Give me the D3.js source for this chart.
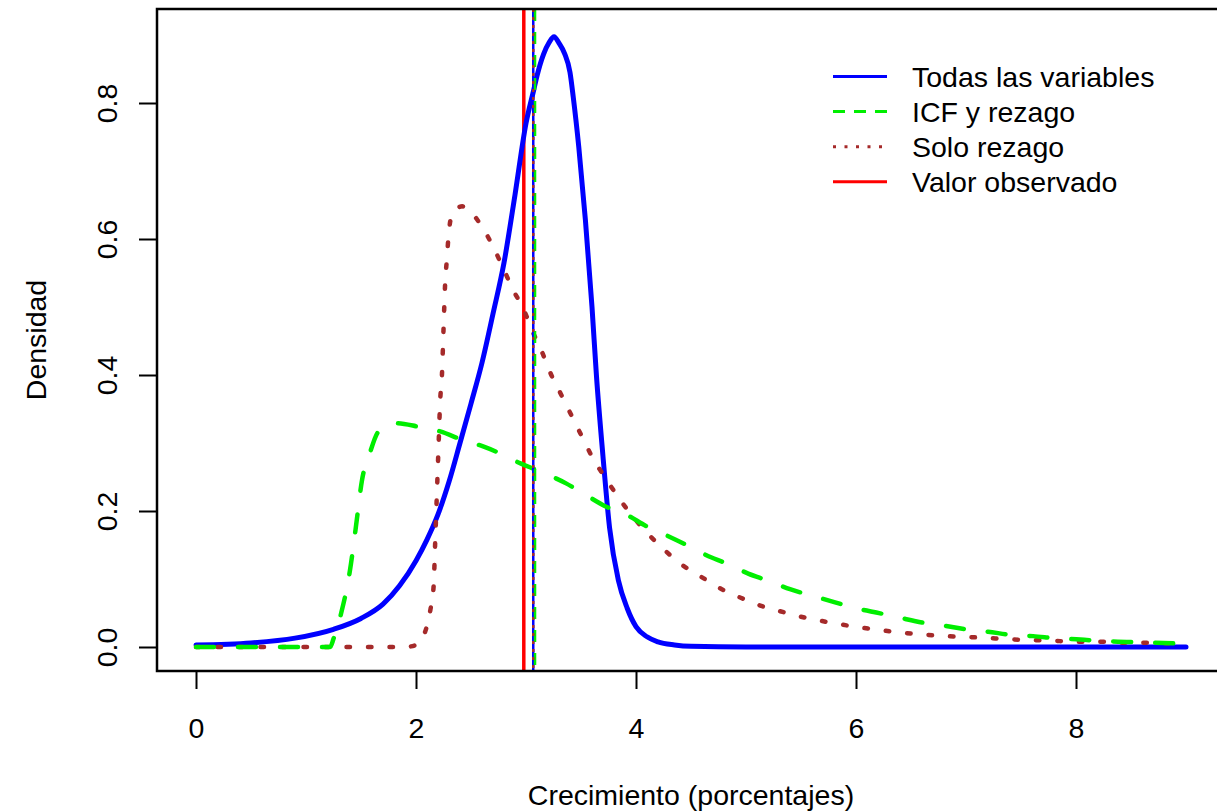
<!DOCTYPE html>
<html>
<head>
<meta charset="utf-8">
<script src="https://cdn.jsdelivr.net/npm/d3@7"></script>
<style>
  html, body { margin: 0; padding: 0; background: #fff; overflow: hidden; }
  svg { display: block; }
  text { font-family: "Liberation Sans", Arial, sans-serif; fill: #000; }
</style>
</head>
<body>
<svg id="chart" width="1217" height="812"></svg>
<script>
// ---- Data ----
const seriesNames = ["Todas las variables", "ICF y rezago", "Solo rezago", "Valor observado"];

const todasX = [0, 0.5, 0.9, 1.25, 1.5, 1.7, 1.85, 2.0, 2.1, 2.2, 2.3, 2.4, 2.5, 2.6, 2.7, 2.8, 2.9, 3.0, 3.07, 3.1, 3.16, 3.21, 3.255, 3.3, 3.35, 3.4, 3.43, 3.48, 3.54, 3.6, 3.64, 3.7, 3.76, 3.84, 3.92, 4.0, 4.1, 4.2, 4.35, 4.5, 5, 6, 7, 8, 9];
const todasY = [0.003, 0.006, 0.013, 0.026, 0.042, 0.063, 0.09, 0.127, 0.158, 0.195, 0.243, 0.30, 0.358, 0.418, 0.49, 0.565, 0.665, 0.77, 0.819, 0.84, 0.872, 0.889, 0.8975, 0.888, 0.873, 0.845, 0.808, 0.735, 0.628, 0.50, 0.40, 0.28, 0.175, 0.098, 0.057, 0.030, 0.015, 0.0075, 0.003, 0.001, 0, 0, 0, 0, 0];

const icfX = [0, 1.22, 1.25, 1.32, 1.4, 1.45, 1.51, 1.58, 1.66, 1.82, 2.02, 2.22, 2.43, 2.61, 2.76, 2.95, 3.1, 3.36, 3.54, 3.72, 3.92, 4.09, 4.28, 4.46, 4.64, 4.82, 5.02, 5.2, 5.4, 5.6, 5.81, 6.0, 6.22, 6.4, 6.6, 6.81, 7.0, 7.2, 7.42, 7.61, 7.82, 8.04, 8.25, 8.46, 8.67, 8.88, 9.0];
const icfY = [0, 0, 0.012, 0.05, 0.113, 0.172, 0.246, 0.285, 0.317, 0.329, 0.324, 0.317, 0.304, 0.295, 0.285, 0.27, 0.26, 0.241, 0.224, 0.207, 0.194, 0.178, 0.164, 0.15, 0.135, 0.123, 0.108, 0.0975, 0.085, 0.0755, 0.0657, 0.057, 0.0495, 0.043, 0.036, 0.031, 0.026, 0.0225, 0.0176, 0.016, 0.0127, 0.011, 0.0085, 0.0075, 0.0064, 0.0054, 0.005];

const soloX = [0, 1.9, 2.0, 2.08, 2.13, 2.16, 2.175, 2.19, 2.205, 2.22, 2.235, 2.25, 2.265, 2.28, 2.295, 2.33, 2.42, 2.46, 2.6, 2.7, 2.79, 2.88, 2.98, 3.06, 3.15, 3.23, 3.32, 3.415, 3.51, 3.61, 3.72, 3.84, 3.96, 4.1, 4.25, 4.4, 4.6, 4.78, 4.98, 5.16, 5.36, 5.54, 5.73, 5.93, 6.14, 6.34, 6.55, 6.75, 6.96, 7.16, 7.37, 7.57, 7.78, 7.98, 8.2, 8.42, 8.63, 8.82, 9.0];
const soloY = [0, 0, 0.003, 0.021, 0.054, 0.089, 0.157, 0.226, 0.295, 0.363, 0.397, 0.466, 0.535, 0.569, 0.603, 0.637, 0.648, 0.645, 0.618, 0.589, 0.558, 0.526, 0.496, 0.464, 0.432, 0.40, 0.371, 0.34, 0.309, 0.277, 0.249, 0.22, 0.194, 0.168, 0.144, 0.123, 0.1025, 0.085, 0.0706, 0.0593, 0.0505, 0.043, 0.037, 0.0314, 0.0265, 0.0226, 0.019, 0.0167, 0.0148, 0.0137, 0.0115, 0.0103, 0.0093, 0.0078, 0.0078, 0.0064, 0.0064, 0.0054, 0.005];

// vertical reference lines (means and observed value)
const meanTodas = 3.066;
const meanIcf = 3.082;
const meanSolo = 3.066;
const valorObservado = 2.98;

const xTicks = [0, 2, 4, 6, 8];
const yTicks = [0, 0.2, 0.4, 0.6, 0.8];

const colors = { todas: "#0000ff", icf: "#00ee00", solo: "#a52a2a", obs: "#ff0000" };

// ---- Layout ----
const svg = d3.select("#chart");
const plotLeft = 157, plotTop = 9, plotBottom = 671, plotRight = 1226;

const x = d3.scaleLinear().domain([0, 9]).range([196, 1186]);
const y = d3.scaleLinear().domain([0, 0.8]).range([647, 103]);

svg.append("defs").append("clipPath").attr("id", "clip")
  .append("rect").attr("x", plotLeft).attr("y", plotTop)
  .attr("width", plotRight - plotLeft).attr("height", plotBottom - plotTop);

const plot = svg.append("g").attr("clip-path", "url(#clip)");

const line = d3.line().x(d => x(d[0])).y(d => y(d[1])).curve(d3.curveMonotoneX);
const zip = (a, b) => a.map((v, i) => [v, b[i]]);

// vertical lines
function vline(v, color, width, dash) {
  plot.append("line")
    .attr("x1", x(v)).attr("x2", x(v))
    .attr("y1", plotTop).attr("y2", plotBottom)
    .attr("stroke", color).attr("stroke-width", width)
    .attr("stroke-dasharray", dash || null);
}
vline(valorObservado, colors.obs, 3.5);

// density curves
plot.append("path").datum(zip(todasX, todasY)).attr("d", line)
  .attr("fill", "none").attr("stroke", colors.todas).attr("stroke-width", 5)
  .attr("stroke-linejoin", "round").attr("stroke-linecap", "round");

plot.append("path").datum(zip(soloX, soloY)).attr("d", line)
  .attr("fill", "none").attr("stroke", colors.solo).attr("stroke-width", 4.5)
  .attr("stroke-dasharray", "3.5,18").attr("stroke-linecap", "round");

plot.append("path").datum(zip(icfX, icfY)).attr("d", line)
  .attr("fill", "none").attr("stroke", colors.icf).attr("stroke-width", 4.5)
  .attr("stroke-dasharray", "18,24").attr("stroke-linecap", "round");

vline(meanTodas, colors.todas, 2.5);
vline(meanIcf, colors.icf, 2.5, "12,11");
vline(meanSolo, colors.solo, 2.5, "3,5");

// ---- Axes ----
const fs = 28.5;
const xAxis = svg.append("g").attr("transform", `translate(0,${plotBottom})`)
  .call(d3.axisBottom(x).tickValues(xTicks).tickSize(18).tickPadding(29).tickFormat(d3.format("d")));
xAxis.select(".domain").remove();
xAxis.selectAll(".tick line").attr("stroke", "#000").attr("stroke-width", 2);
xAxis.selectAll(".tick text").attr("font-size", fs).attr("font-family", "Liberation Sans, Arial, sans-serif").attr("fill", "#000");

const yAxis = svg.append("g").attr("transform", `translate(${plotLeft},0)`)
  .call(d3.axisLeft(y).tickValues(yTicks).tickSize(18).tickFormat(d3.format(".1f")));
yAxis.select(".domain").remove();
yAxis.selectAll(".tick line").attr("stroke", "#000").attr("stroke-width", 2);
yAxis.selectAll(".tick text")
  .attr("font-size", fs).attr("font-family", "Liberation Sans, Arial, sans-serif").attr("fill", "#000")
  .attr("x", null).attr("dy", null)
  .attr("text-anchor", "middle")
  .attr("transform", `translate(${117 - plotLeft},0) rotate(-90)`);

// box
svg.append("rect").attr("x", plotLeft).attr("y", plotTop)
  .attr("width", plotRight - plotLeft).attr("height", plotBottom - plotTop)
  .attr("fill", "none").attr("stroke", "#000").attr("stroke-width", 2.5);

// axis titles
svg.append("text").attr("x", 691).attr("y", 805).attr("text-anchor", "middle")
  .attr("font-size", fs).text("Crecimiento (porcentajes)");
svg.append("text").attr("transform", "translate(46,340) rotate(-90)").attr("text-anchor", "middle")
  .attr("font-size", fs).text("Densidad");

// ---- Legend ----
const legendItems = [
  { name: seriesNames[0], color: colors.todas, dash: null },
  { name: seriesNames[1], color: colors.icf, dash: "12,9" },
  { name: seriesNames[2], color: colors.solo, dash: "3,8.5" },
  { name: seriesNames[3], color: colors.obs, dash: null }
];
const leg = svg.append("g");
legendItems.forEach((it, i) => {
  const ly = 76.5 + i * 35.1;
  leg.append("line").attr("x1", 833).attr("x2", 887).attr("y1", ly).attr("y2", ly)
    .attr("stroke", it.color).attr("stroke-width", 3)
    .attr("stroke-dasharray", it.dash);
  leg.append("text").attr("x", 912).attr("y", ly + 10.5).attr("font-size", fs).text(it.name);
});
</script>
</body>
</html>
